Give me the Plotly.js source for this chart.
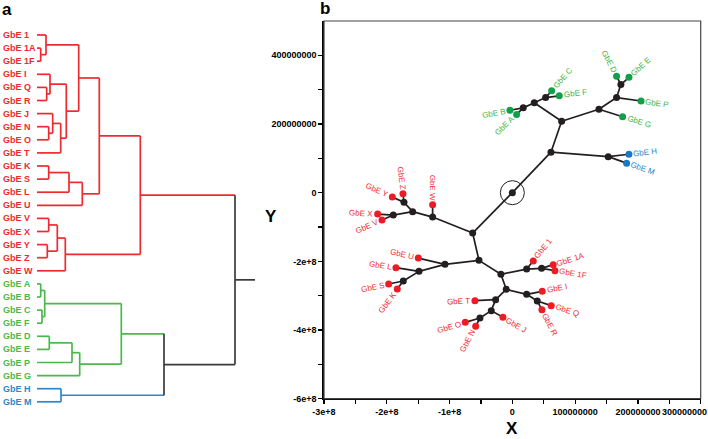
<!DOCTYPE html>
<html><head><meta charset="utf-8">
<script src="https://cdn.plot.ly/plotly-3.0.1.min.js"></script>
<style>html,body{margin:0;padding:0;background:#fff}#chart{width:708px;height:439px}</style>
</head><body><div id="chart"></div>
<script>
// ---------------- Panel a : dendrogram data ----------------
const leafNames = ['GbE 1','GbE 1A','GbE 1F','GbE I','GbE Q','GbE R','GbE J','GbE N','GbE O','GbE T','GbE K','GbE S','GbE L','GbE U','GbE V','GbE X','GbE Y','GbE Z','GbE W','GbE A','GbE B','GbE C','GbE F','GbE D','GbE E','GbE P','GbE G','GbE H','GbE M'];
const leafCluster = [1,1,1,1,1,1,1,1,1,1,1,1,1,1,1,1,1,1,1,2,2,2,2,2,2,2,2,3,3];
// merges (node id = 29 + index), scipy-like linkage
const mergeLeft   = [1,0,4,3,7,6,34,32,30,10,38,39,37,14,16,42,44,41,19,21,47,23,50,51,49,27,53,46];
const mergeRight  = [2,29,5,31,8,33,9,35,36,11,12,13,40,15,17,43,18,45,20,22,48,24,25,26,52,28,54,55];
const mergeHeight = [3.7,9,9.7,13,11.7,15.7,23.7,29.3,41.7,11.7,32,45.3,62.3,11.7,10.3,20.3,28.3,103.3,3.7,5,7.7,12.3,35,42.7,84.3,24,127,198];
const mergeCluster= [1,1,1,1,1,1,1,1,1,1,1,1,1,1,1,1,1,1,2,2,2,2,2,2,2,3,0,0];
const rootHeight = 218;

// ---------------- Panel b : tree data ----------------
const treeLabel = ['', '', '', '', '', 'GbE A','GbE B','', 'GbE C','GbE F','', 'GbE G','', 'GbE P','', 'GbE D','GbE E','', 'GbE H','GbE M',
  '', '', 'GbE W','', '', 'GbE Y','GbE Z','', 'GbE X','GbE V',
  '', '', 'GbE U','', 'GbE L','', 'GbE S','GbE K',
  '', '', 'GbE 1','', 'GbE 1A','GbE 1F',
  '', '', 'GbE I','', 'GbE Q','GbE R','', 'GbE T','', 'GbE J','', 'GbE O','GbE N'];
const treeX = [0, 6.15e7, 7.85e7, 3.49e7, 1.74e7, 0.68e7, -0.38e7, 5.3e7, 6.26e7, 7.47e7, 1.379e8, 1.756e8, 1.66e8, 2.05e8, 1.729e8, 1.66e8, 1.857e8, 1.527e8, 1.857e8, 1.82e8,
  -0.632e8, -1.27e8, -1.27e8, -1.588e8, -1.726e8, -1.912e8, -1.742e8, -1.896e8, -2.145e8, -2.076e8,
  -0.532e8, -1.073e8, -1.498e8, -1.487e8, -1.854e8, -1.737e8, -1.97e8, -1.833e8,
  -0.182e8, 0.228e8, 0.333e8, 0.466e8, 0.651e8, 0.678e8,
  -0.097e8, 0.228e8, 0.476e8, 0.397e8, 0.619e8, 0.471e8, -0.266e8, -0.596e8, -0.336e8, -0.15e8, -0.516e8, -0.75e8, -0.584e8];
const treeY = [0, 1.18e8, 2.08e8, 2.62e8, 2.47e8, 2.28e8, 2.40e8, 2.77e8, 2.97e8, 2.82e8, 2.43e8, 2.21e8, 2.77e8, 2.67e8, 3.15e8, 3.39e8, 3.36e8, 1.05e8, 1.12e8, 0.86e8,
  -1.176e8, -0.71e8, -0.35e8, -0.553e8, -0.282e8, -0.128e8, -0.03e8, -0.652e8, -0.623e8, -0.798e8,
  -1.971e8, -2.087e8, -1.904e8, -2.291e8, -2.183e8, -2.573e8, -2.66e8, -2.806e8,
  -2.378e8, -2.224e8, -1.99e8, -2.204e8, -2.096e8, -2.271e8,
  -2.815e8, -2.96e8, -2.873e8, -3.156e8, -3.29e8, -3.406e8, -3.115e8, -3.144e8, -3.435e8, -3.63e8, -3.65e8, -3.776e8, -3.892e8];
const treeParent = [-1, 0, 1, 2, 3, 4, 4, 3, 7, 7, 2, 10, 10, 12, 12, 14, 14, 1, 17, 17,
  0, 20, 21, 21, 23, 24, 24, 23, 27, 27,
  20, 30, 31, 31, 33, 33, 35, 35,
  30, 38, 39, 39, 41, 41,
  38, 44, 45, 45, 47, 47, 44, 50, 50, 52, 52, 54, 54];
const treeGroup = [0,0,0,0,0,2,2,0,2,2,0,2,0,2,0,2,2,0,3,3,
  0,0,1,0,0,1,1,0,1,1,
  0,0,1,0,1,0,1,1,
  0,0,1,0,1,1,
  0,0,1,0,1,1,0,1,0,1,0,1,1];
const xTickVals = [-3e8,-2.5e8,-2e8,-1.5e8,-1e8,-0.5e8,0,0.5e8,1e8,1.5e8,2e8,2.5e8,3e8];
const xTickText = ['-3e+8','','-2e+8','','-1e+8','','0','','100000000','','200000000','','300000000'];
const yTickVals = [-6e8,-5e8,-4e8,-3e8,-2e8,-1e8,0,1e8,2e8,3e8,4e8];
const yTickText = ['-6e+8','','-4e+8','','-2e+8','','0','','200000000','','400000000'];

// ---------------- styling ----------------
const W = 708, H = 439;
const FONT = '"Liberation Sans", Arial, Helvetica, sans-serif';
const dendroColor = {0:'#3a3a3a', 1:'#ee2a30', 2:'#4cb84c', 3:'#2f86c8'};
const markerColor = {0:'#231f20', 1:'#ed1c24', 2:'#11a04a', 3:'#1b78c4'};
const labelColor  = {0:'#231f20', 1:'#ee2a30', 2:'#3cb44b', 3:'#2a84c8'};

// ---------- build dendrogram ----------
const nLeaf = leafNames.length;
const nodeY = leafNames.map((_, i) => i);
const nodeH = leafNames.map(() => 0);
const nodeC = leafCluster.slice();
mergeLeft.forEach((l, k) => {
  const r = mergeRight[k];
  nodeY.push((nodeY[l] + nodeY[r]) / 2);
  nodeH.push(mergeHeight[k]);
  nodeC.push(mergeCluster[k]);
});
const seg = {0:{x:[],y:[]},1:{x:[],y:[]},2:{x:[],y:[]},3:{x:[],y:[]}};
function addSeg(c, x0, y0, x1, y1){ seg[c].x.push(x0, x1, null); seg[c].y.push(y0, y1, null); }
mergeLeft.forEach((l, k) => {
  const r = mergeRight[k], h = mergeHeight[k];
  [l, r].forEach(ch => addSeg(nodeC[ch], nodeH[ch], nodeY[ch], h, nodeY[ch]));
  addSeg(mergeCluster[k], h, nodeY[l], h, nodeY[r]);
});
const rootId = nodeY.length - 1;
addSeg(0, nodeH[rootId], nodeY[rootId], rootHeight, nodeY[rootId]);

const traces = [];
[1,2,3,0].forEach(c => traces.push({type:'scatter', mode:'lines', x:seg[c].x, y:seg[c].y,
  xaxis:'x', yaxis:'y', line:{color:dendroColor[c], width:1.7}, hoverinfo:'skip'}));

const annotations = [];
leafNames.forEach((name, i) => annotations.push({xref:'x', yref:'y', x:-35, y:i, text:name,
  showarrow:false, xanchor:'left', yanchor:'middle', borderpad:0,
  font:{family:FONT, size:9, color:dendroColor[leafCluster[i]], weight:'bold'}}));

// ---------- build tree ----------
const ex = [], ey = [];
treeParent.forEach((p, i) => { if (p >= 0) { ex.push(treeX[p], treeX[i], null); ey.push(treeY[p], treeY[i], null); } });
traces.push({type:'scatter', mode:'lines', x:ex, y:ey, xaxis:'x2', yaxis:'y2',
  line:{color:'#231f20', width:1.7}, hoverinfo:'skip'});
traces.push({type:'scatter', mode:'markers', x:[treeX[0]], y:[treeY[0]], xaxis:'x2', yaxis:'y2',
  marker:{symbol:'circle-open', size:24, color:'#231f20', line:{width:1}}, hoverinfo:'skip'});
traces.push({type:'scatter', mode:'markers', x:treeX, y:treeY, xaxis:'x2', yaxis:'y2',
  marker:{size:7, color:treeGroup.map(g => markerColor[g])}, hoverinfo:'skip'});

// label placement along branch direction
const x2dom = [324/W, 700.7/W], y2dom = [1 - 398.7/H, 1 - 21/H];
const xRange = [-3e8, 3e8], yRange = [-6e8, 5e8];
const xs = (x2dom[1]-x2dom[0]) * W / (xRange[1]-xRange[0]);
const ys = (y2dom[1]-y2dom[0]) * H / (yRange[1]-yRange[0]);
const cv = document.createElement('canvas').getContext('2d');
const TREE_FS = 8;
cv.font = TREE_FS + 'px ' + FONT;
treeLabel.forEach((lab, i) => {
  if (!lab) return;
  const p = treeParent[i];
  const dx = (treeX[i]-treeX[p]) * xs, dy = -(treeY[i]-treeY[p]) * ys; // screen
  const len = Math.hypot(dx, dy), ux = dx/len, uy = dy/len;
  let ang = Math.atan2(uy, ux) * 180 / Math.PI;
  if (ang <= -90 || ang > 90) ang = ang > 0 ? ang - 180 : ang + 180;
  const w = cv.measureText(lab).width;
  const d = 4.5 + w/2;
  annotations.push({xref:'x2', yref:'y2', x:treeX[i], y:treeY[i], text:lab, showarrow:false,
    xanchor:'center', yanchor:'middle', textangle:ang, xshift:ux*d, yshift:-uy*d, borderpad:0,
    font:{family:FONT, size:TREE_FS, color:labelColor[treeGroup[i]]}});
});

// last x tick label sits flush with the right edge in the reference
const xTickShown = xTickText.slice();
const lastLabel = xTickShown[xTickShown.length - 1];
xTickShown[xTickShown.length - 1] = '';
const tickFont = {family:FONT, size:9, color:'#000', weight:'bold'};
annotations.push({xref:'paper', yref:'paper', x:1, y:1-412/H, text:lastLabel, showarrow:false,
  xanchor:'right', yanchor:'middle', borderpad:0, font:tickFont});

annotations.push({xref:'paper', yref:'paper', x:0/W, y:1-10/H, text:'a', showarrow:false, xanchor:'left', yanchor:'middle',
  font:{family:FONT, size:17, color:'#000', weight:'bold'}});
annotations.push({xref:'paper', yref:'paper', x:318/W, y:1-9/H, text:'b', showarrow:false, xanchor:'left', yanchor:'middle',
  font:{family:FONT, size:17, color:'#000', weight:'bold'}});
annotations.push({xref:'paper', yref:'paper', x:270.5/W, y:1-216.5/H, text:'Y', showarrow:false, xanchor:'center', yanchor:'middle',
  font:{family:FONT, size:17, color:'#000', weight:'bold'}});
annotations.push({xref:'paper', yref:'paper', x:512/W, y:0, text:'X', showarrow:false, xanchor:'center', yanchor:'bottom', borderpad:0,
  font:{family:FONT, size:17, color:'#000', weight:'bold'}});

const axBase = {showgrid:false, zeroline:false, fixedrange:true};
const layout = {
  width:W, height:H, margin:{l:0,r:0,t:0,b:0}, paper_bgcolor:'#fff', plot_bgcolor:'rgba(0,0,0,0)',
  showlegend:false, hovermode:false,
  xaxis:Object.assign({}, axBase, {domain:[0, 258/W], range:[-37, 221], visible:false, anchor:'y'}),
  yaxis:Object.assign({}, axBase, {domain:[0, 1], range:[404/13.1, -35/13.1], visible:false, anchor:'x'}),
  xaxis2:Object.assign({}, axBase, {domain:x2dom, range:xRange, anchor:'y2', showline:true, linecolor:'#000', linewidth:1.6,
    tickmode:'array', tickvals:xTickVals, ticktext:xTickShown, ticks:'outside', ticklen:4, tickwidth:1.2, tickcolor:'#000',
    tickfont:tickFont}),
  yaxis2:Object.assign({}, axBase, {domain:y2dom, range:yRange, anchor:'x2', showline:true, linecolor:'#000', linewidth:1.6,
    tickmode:'array', tickvals:yTickVals, ticktext:yTickText, ticks:'outside', ticklen:4, tickwidth:1.2, tickcolor:'#000',
    tickfont:tickFont}),
  shapes:[{type:'rect', xref:'x2 domain', yref:'y2 domain', x0:0, x1:1, y0:0, y1:1, line:{color:'#444', width:1.2}, layer:'above'}],
  annotations:annotations
};
Plotly.newPlot('chart', traces, layout, {staticPlot:true, displayModeBar:false});
</script></body></html>
